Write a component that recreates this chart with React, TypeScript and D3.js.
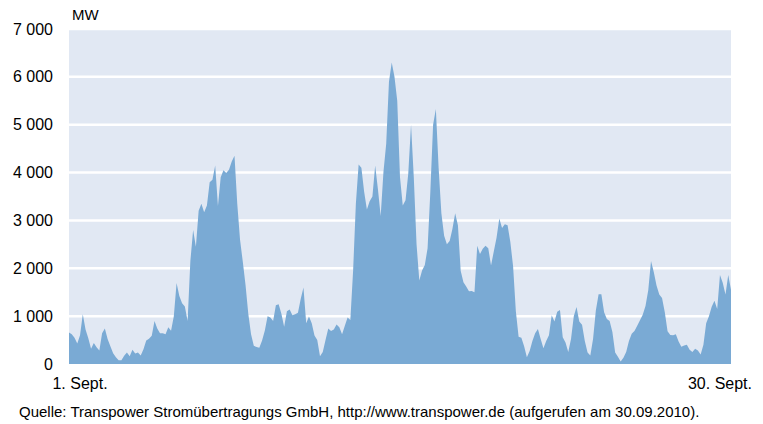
import React, { useEffect, useRef } from "react";
import * as d3 from "d3";

// Wind feed-in (MW) in 3-hour steps, 1 Sept 00:00 to 1 Oct 00:00
const windMW = [
  660, 620, 550, 430, 600, 1040, 720, 540, 320, 440, 350, 280, 640, 740, 520, 370,
  225, 140, 80, 80, 170, 240, 160, 300, 220, 240, 180, 310, 490, 530, 590, 900,
  740, 640, 640, 620, 770, 694, 1000, 1690, 1420, 1270, 1200, 900, 2150, 2800, 2450, 3200,
  3350, 3170, 3310, 3800, 3850, 4150, 3300, 3900, 4050, 3990, 4060, 4230, 4350, 3350, 2600, 2140,
  1650, 1050, 620, 380, 355, 340, 490, 700, 1000, 970, 900, 1230, 1250, 1050, 780, 1100,
  1140, 1020, 1040, 1070, 1360, 1600, 850, 990, 850, 593, 500, 160, 250, 500, 740, 690,
  720, 825, 768, 620, 800, 970, 920, 1950, 3350, 4170, 4100, 3600, 3230, 3400, 3500, 4150,
  3650, 3090, 4010, 4600, 5900, 6300, 6000, 5500, 3900, 3310, 3420, 3980, 5000, 3900, 2500, 1745,
  1955, 2070, 2420, 3600, 5000, 5330, 4100, 3150, 2680, 2500, 2570, 2820, 3150, 2900, 1950, 1710,
  1620, 1520, 1525, 1500, 2470, 2300, 2410, 2470, 2420, 2060, 2350, 2640, 3040, 2840, 2920, 2900,
  2550, 2040, 1100, 570, 550, 370, 140, 270, 480, 640, 730, 520, 330, 480, 600, 1020,
  890, 1090, 1126, 560, 450, 250, 520, 1000, 1190, 890, 820, 480, 240, 180, 530, 1120,
  1460, 1460, 1080, 940, 900, 670, 240, 150, 50, 130, 250, 480, 634, 690, 800, 915,
  1030, 1210, 1540, 2150, 1920, 1640, 1450, 1380, 1080, 685, 605, 600, 620, 470, 360, 387,
  400, 300, 250, 317, 281, 200, 400, 850, 1000, 1197, 1320, 1150, 1860, 1700, 1450, 1860,
  1550,
];
const startDate = new Date(2010, 8, 1, 0);
const stepHours = 3;

const yTicks = [0, 1000, 2000, 3000, 4000, 5000, 6000, 7000];
const xLabels = ["1. Sept.", "30. Sept."];
const xLabelDays = [1, 30];
const unitLabel = "MW";
const sourceNote =
  "Quelle: Transpower Stromübertragungs GmbH, http://www.transpower.de (aufgerufen am 30.09.2010).";

export default function App() {
  const ref = useRef<SVGSVGElement>(null);

  useEffect(() => {
    const svgWidth = 763;
    const svgHeight = 424;
    const margin = { top: 29, right: 32, bottom: 60, left: 69 };
    const width = svgWidth - margin.left - margin.right;
    const height = svgHeight - margin.top - margin.bottom;

    const svg = d3.select(ref.current);
    svg.selectAll("*").remove();

    const data = windMW.map((mw, i) => ({
      date: d3.timeHour.offset(startDate, i * stepHours),
      mw,
    }));

    const x = d3
      .scaleTime()
      .domain([startDate, d3.timeDay.offset(startDate, 30)])
      .range([0, width]);
    const y = d3.scaleLinear().domain([0, 7000]).range([height, 0]);

    const de = d3.formatLocale({
      decimal: ",",
      thousands: " ",
      grouping: [3],
      currency: ["", " €"],
    });

    const g = svg
      .append("g")
      .attr("transform", `translate(${margin.left},${margin.top})`);

    // plot background
    g.append("rect")
      .attr("width", width)
      .attr("height", height)
      .attr("fill", "#e1e8f3");

    // white gridlines
    g.selectAll(".grid")
      .data(yTicks.filter((t) => t > 0))
      .enter()
      .append("line")
      .attr("x1", 0)
      .attr("x2", width)
      .attr("y1", (d) => y(d))
      .attr("y2", (d) => y(d))
      .attr("stroke", "#fff")
      .attr("stroke-width", 2.5);

    const area = d3
      .area<{ date: Date; mw: number }>()
      .x((d) => x(d.date))
      .y0(y(0))
      .y1((d) => y(d.mw));

    g.append("path").datum(data).attr("d", area).attr("fill", "#7aaad4");

    // y axis labels
    const yAxis = g
      .append("g")
      .call(
        d3
          .axisLeft(y)
          .tickValues(yTicks)
          .tickSize(0)
          .tickPadding(16)
          .tickFormat((d) => de.format(",")(d as number))
      );
    yAxis.select(".domain").remove();
    yAxis
      .selectAll("text")
      .attr("font-family", "'Liberation Sans', Arial, sans-serif")
      .attr("font-size", 16)
      .attr("fill", "#000");

    // x labels centred on their day
    g.selectAll(".xlabel")
      .data(xLabels)
      .enter()
      .append("text")
      .attr("x", (d, i) => x(d3.timeHour.offset(startDate, (xLabelDays[i] - 1) * 24 + 12)))
      .attr("y", height + 25)
      .attr("text-anchor", "middle")
      .attr("font-family", "'Liberation Sans', Arial, sans-serif")
      .attr("font-size", 16)
      .attr("fill", "#000")
      .text((d) => d);

    svg
      .append("text")
      .attr("x", margin.left + 3)
      .attr("y", 20)
      .attr("font-family", "'Liberation Sans', Arial, sans-serif")
      .attr("font-size", 15)
      .attr("fill", "#000")
      .text(unitLabel);

    svg
      .append("text")
      .attr("x", 19)
      .attr("y", 417)
      .attr("font-family", "'Liberation Sans', Arial, sans-serif")
      .attr("font-size", 15)
      .attr("fill", "#000")
      .text(sourceNote);
  }, []);

  return (
    <svg
      ref={ref}
      width={763}
      height={424}
      style={{ position: "absolute", left: 0, top: 0, background: "#fff" }}
    />
  );
}
